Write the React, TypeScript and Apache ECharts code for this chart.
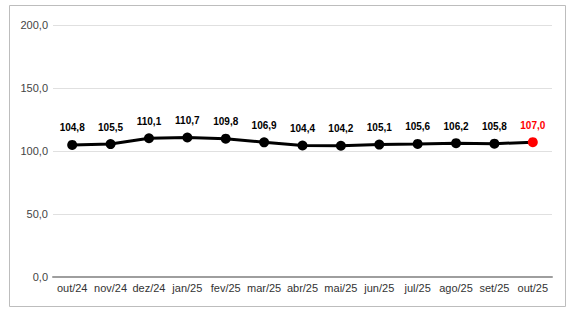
import React, { useEffect, useRef } from "react";
import * as echarts from "echarts";

const categories = ["out/24", "nov/24", "dez/24", "jan/25", "fev/25", "mar/25", "abr/25", "mai/25", "jun/25", "jul/25", "ago/25", "set/25", "out/25"];
const values = [104.8, 105.5, 110.1, 110.7, 109.8, 106.9, 104.4, 104.2, 105.1, 105.6, 106.2, 105.8, 107.0];
const yTicks = { min: 0, max: 200, interval: 50 };

const fmt = (v: number) => v.toFixed(1).replace(".", ",");

export default function App() {
  const ref = useRef<HTMLDivElement>(null);
  useEffect(() => {
    const chart = echarts.init(ref.current!, null, { renderer: "svg" });
    const last = values.length - 1;
    chart.setOption({
      animation: false,
      backgroundColor: "#ffffff",
      textStyle: { fontFamily: "Liberation Sans, Arial, sans-serif" },
      graphic: [
        {
          type: "rect",
          shape: { x: 9.5, y: 5.5, width: 556, height: 301 },
          style: { fill: "none", stroke: "#bdbdbd", lineWidth: 1 },
          silent: true,
        },
      ],
      grid: { left: 53, right: 22, top: 25, bottom: 37, containLabel: false },
      xAxis: {
        type: "category",
        data: categories,
        boundaryGap: true,
        axisLine: { lineStyle: { color: "#9e9e9e", width: 2 } },
        axisTick: { show: false },
        axisLabel: { color: "#333333", fontSize: 11, margin: 5, interval: 0 },
      },
      yAxis: {
        type: "value",
        min: yTicks.min,
        max: yTicks.max,
        interval: yTicks.interval,
        axisLine: { show: false },
        axisTick: { show: false },
        splitLine: { lineStyle: { color: "#e0e0e0", width: 1 } },
        axisLabel: { color: "#444444", fontSize: 11, margin: 5, formatter: (v: number) => fmt(v) },
      },
      series: [
        {
          type: "line",
          data: values.map((v, i) =>
            i === last
              ? {
                  value: v,
                  itemStyle: { color: "#ff0000" },
                  label: { color: "#ff0000" },
                }
              : v
          ),
          lineStyle: { color: "#000000", width: 3 },
          itemStyle: { color: "#000000" },
          symbol: "circle",
          symbolSize: 10,
          label: {
            show: true,
            position: "top",
            distance: 7,
            fontSize: 10,
            fontWeight: "bold",
            color: "#000000",
            formatter: (p: any) => fmt(p.value),
          },
        },
      ],
    });
    return () => chart.dispose();
  }, []);
  return (
    <div
      ref={ref}
      style={{ position: "fixed", left: 0, top: 0, width: 574, height: 314 }}
    />
  );
}
